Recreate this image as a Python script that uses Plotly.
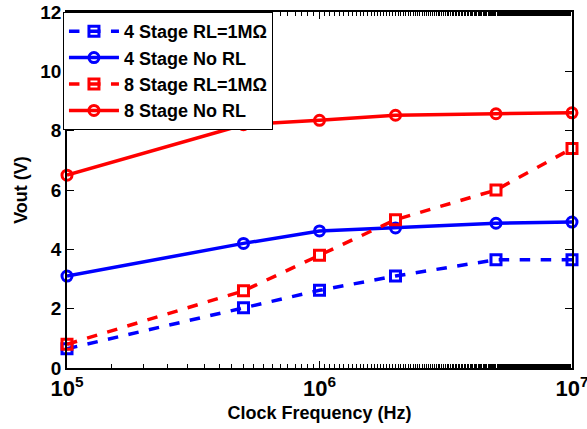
import plotly.graph_objects as go

freq = [1e5, 5e5, 1e6, 2e6, 5e6, 1e7]
s4_rl = [0.65, 2.03, 2.62, 3.1, 3.65, 3.65]
s4_norl = [3.1, 4.2, 4.62, 4.72, 4.88, 4.92]
s8_rl = [0.8, 2.6, 3.8, 5.0, 6.0, 7.4]
s8_norl = [6.5, 8.2, 8.35, 8.52, 8.57, 8.6]
names = ["4 Stage RL=1MΩ", "4 Stage No RL", "8 Stage RL=1MΩ", "8 Stage No RL"]
x_ticks = [1e5, 1e6, 1e7]
x_ticktext = ["10<sup>5</sup>", "10<sup>6</sup>", "10<sup>7</sup>"]
y_ticks = [0, 2, 4, 6, 8, 10, 12]

fig = go.Figure()
specs = [
    (s4_rl, names[0], "#0000ff", "dash", "square-open"),
    (s4_norl, names[1], "#0000ff", "solid", "circle-open"),
    (s8_rl, names[2], "#ff0000", "dash", "square-open"),
    (s8_norl, names[3], "#ff0000", "solid", "circle-open"),
]
for ys, nm, col, dash, sym in specs:
    fig.add_trace(go.Scatter(
        x=freq, y=ys, name="<b>" + nm + "</b>", mode="lines+markers",
        line=dict(color=col, width=3.5, dash=dash),
        marker=dict(symbol=sym, size=10, color=col, line=dict(color=col, width=3)),
        cliponaxis=False,
    ))

font = "Liberation Sans, Arial, sans-serif"
fig.update_layout(
    width=587, height=429,
    margin=dict(l=67, r=15, t=12, b=61, autoexpand=False),
    paper_bgcolor="white", plot_bgcolor="white",
    font=dict(family=font, size=16, color="black"),
    showlegend=True,
    legend=dict(
        x=-0.008, y=1.0, xanchor="left", yanchor="top",
        bordercolor="black", borderwidth=1, bgcolor="white",
        font=dict(family=font, size=18, color="black"),
        tracegroupgap=0, itemwidth=50,
    ),
)
fig.update_xaxes(
    type="log", range=[5, 7], automargin=False,
    tickvals=x_ticks,
    ticktext=["<b>" + t + "</b>" for t in x_ticktext],
    ticks="inside", ticklen=7, tickwidth=1, tickcolor="black",
    minor=dict(ticks="inside", ticklen=4, tickcolor="black", showgrid=False),
    showline=True, linecolor="black", linewidth=1.5, mirror="allticks",
    showgrid=False, zeroline=False, ticklabeloverflow="allow",
    tickfont=dict(family=font, size=22, color="black"),
    title=dict(text="<b>Clock Frequency (Hz)</b>", font=dict(family=font, size=18, color="black"), standoff=6),
)
fig.update_yaxes(
    range=[0, 12], tickvals=y_ticks, automargin=False,
    ticktext=["<b>%d</b>" % v for v in y_ticks],
    ticks="inside", ticklen=7, tickwidth=1, tickcolor="black",
    showline=True, linecolor="black", linewidth=1.5, mirror="allticks",
    showgrid=False, zeroline=False,
    tickfont=dict(family=font, size=19, color="black"),
    title=dict(text="<b>Vout (V)</b>", font=dict(family=font, size=18, color="black"), standoff=8),
)
fig.write_html("out.html")
